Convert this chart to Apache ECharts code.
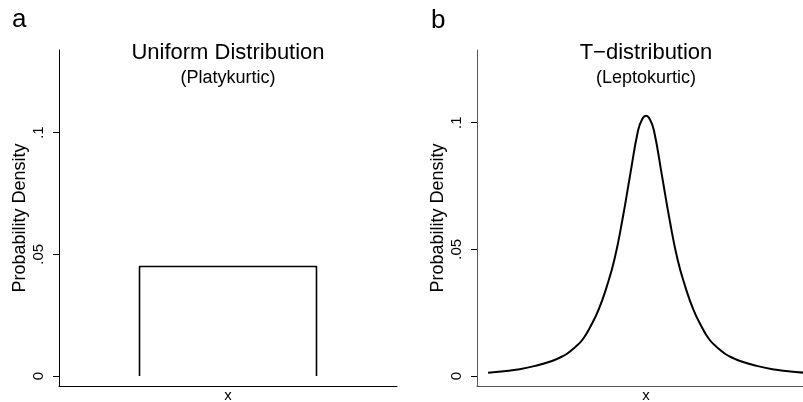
<!DOCTYPE html>
<html><head><meta charset="utf-8">
<script src="https://cdn.jsdelivr.net/npm/echarts@6/dist/echarts.min.js"></script>
<style>html,body{margin:0;padding:0;background:#fff}#c{width:803px;height:402px}</style>
</head><body><div id="c"></div><script>
// ---- data ----
const uniformX = [-11.1, -11.1, 11.1, 11.1];
const uniformY = [0, 0.045, 0.045, 0];
const tX = [-10, -9, -8, -7, -6, -5.5, -5, -4.5, -4, -3.5, -3, -2.5, -2, -1.5, -1, -0.5, -0.25, 0,
            0.25, 0.5, 1, 1.5, 2, 2.5, 3, 3.5, 4, 4.5, 5, 5.5, 6, 7, 8, 9, 10];
const tY = [0.0013, 0.0019, 0.0027, 0.0040, 0.0058, 0.0071, 0.0088, 0.0113, 0.0145, 0.0197, 0.0262, 0.0350, 0.0460, 0.0615, 0.0795, 0.0970, 0.1013, 0.1027,
            0.1013, 0.0970, 0.0795, 0.0615, 0.0460, 0.0350, 0.0262, 0.0197, 0.0145, 0.0113, 0.0088, 0.0071, 0.0058, 0.0040, 0.0027, 0.0019, 0.0013];
const yTicks = [0, 0.05, 0.1];
const yTickLabels = ['0', '.05', '.1'];
const panelLetters = ['a', 'b'];
const titles = ['Uniform Distribution', 'T\u2212distribution'];
const subtitles = ['(Platykurtic)', '(Leptokurtic)'];
const yAxisName = 'Probability Density';
const xAxisName = 'x';

const FONT = 'Liberation Sans, Arial, Helvetica, sans-serif';
const chart = echarts.init(document.getElementById('c'), null, {renderer: 'canvas'});

const grids = [
  {left: 59, top: 50, width: 338, height: 336},
  {left: 477, top: 50, width: 338, height: 336}
];
const yRanges = [[-0.0041, 0.1339], [-0.00395, 0.1287]];
const xRanges = [[-21.2, 21.2], [-10.7, 10.7]];
const axisColors = ['#000', '#555'];

function yAxis(i) {
  return {
    type: 'value', gridIndex: i, min: yRanges[i][0], max: yRanges[i][1],
    axisLine: {show: true, onZero: false, lineStyle: {color: axisColors[i], width: 1}},
    axisTick: {show: true, customValues: yTicks, length: 6, lineStyle: {color: '#000', width: 1}},
    axisLabel: {
      customValues: yTicks, rotate: 90, margin: 13, fontSize: 15, color: '#000', fontFamily: FONT,
      formatter: v => { const k = yTicks.findIndex(t => Math.abs(t - v) < 1e-9); return k >= 0 ? yTickLabels[k] : ''; }
    },
    splitLine: {show: false},
    name: yAxisName, nameLocation: 'middle', nameGap: 30, nameRotate: 90,
    nameTextStyle: {fontSize: 18, color: '#000', fontFamily: FONT}
  };
}
function xAxis(i) {
  return {
    type: 'value', gridIndex: i, min: xRanges[i][0], max: xRanges[i][1],
    axisLine: {show: true, onZero: false, lineStyle: {color: axisColors[i], width: 1}},
    axisTick: {show: false}, axisLabel: {show: false}, splitLine: {show: false},
    name: xAxisName, nameLocation: 'middle', nameGap: 2,
    nameTextStyle: {fontSize: 15, color: '#000', fontFamily: FONT}
  };
}

const titleComps = [];
const titleX = [228, 646];
[0, 1].forEach(i => {
  titleComps.push({text: panelLetters[i], left: i === 0 ? 12 : 431, top: i === 0 ? 7 : 8, padding: 0,
    textStyle: {fontSize: 26, fontWeight: 'normal', color: '#000', fontFamily: FONT}});
  titleComps.push({text: titles[i], left: titleX[i], top: 42, textAlign: 'center', padding: 0,
    textStyle: {fontSize: 22, fontWeight: 'normal', color: '#000', fontFamily: FONT}});
  titleComps.push({text: subtitles[i], left: titleX[i], top: 69, textAlign: 'center', padding: 0,
    textStyle: {fontSize: 18, fontWeight: 'normal', color: '#000', fontFamily: FONT}});
});

chart.setOption({
  animation: false,
  backgroundColor: '#fff',
  title: titleComps,
  grid: grids.map(g => Object.assign({containLabel: false, outerBoundsMode: 'none'}, g)),
  xAxis: [xAxis(0), xAxis(1)],
  yAxis: [yAxis(0), yAxis(1)],
  series: [
    {type: 'line', xAxisIndex: 0, yAxisIndex: 0, showSymbol: false, symbol: 'none',
     data: uniformX.map((x, k) => [x, uniformY[k]]),
     lineStyle: {color: '#000', width: 1.6}},
    {type: 'line', xAxisIndex: 1, yAxisIndex: 1, showSymbol: false, symbol: 'none', smooth: 0.5,
     data: tX.map((x, k) => [x, tY[k]]),
     lineStyle: {color: '#000', width: 2}}
  ]
});
</script></body></html>
